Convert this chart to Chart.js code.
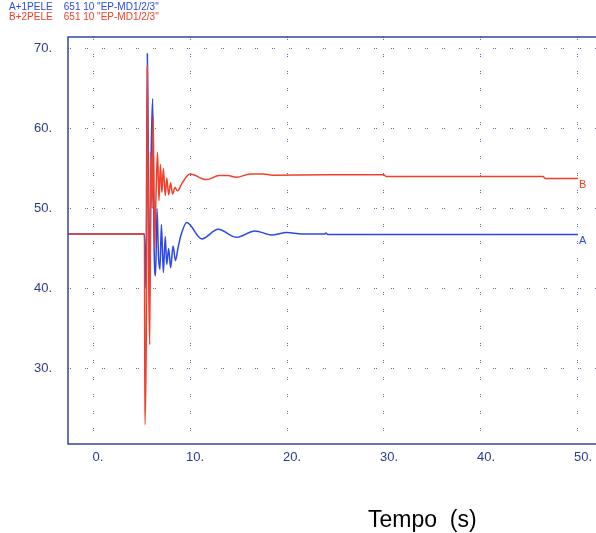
<!DOCTYPE html>
<html lang="pt">
<head>
<meta charset="UTF-8">
<title>Tempo (s)</title>
<script src="https://cdn.jsdelivr.net/npm/chart.js"></script>
<style>
  html, body { margin: 0; padding: 0; background: #fff; overflow: hidden; }
  #wrap { position: relative; width: 596px; height: 533px; overflow: hidden; }
  canvas { position: absolute; left: 0; top: 0; }
  .leg { position: absolute; left: 9px; font: 10px "Liberation Sans", Arial, sans-serif; white-space: pre; }
  #xt { position: absolute; left: 368px; top: 506px; font: 23px "Liberation Sans", Arial, sans-serif; color: #000; white-space: pre; }
</style>
</head>
<body>
<div id="wrap">
  <canvas id="c" width="620" height="533"></canvas>
  <div class="leg" style="top:1px;color:#2c48e8">A+1PELE    651 10 "EP-MD1/2/3"</div>
  <div class="leg" style="top:11px;color:#f0402a">B+2PELE    651 10 "EP-MD1/2/3"</div>
  <div id="xt">Tempo  (s)</div>
</div>
<script>
// tick values
var xTicks = [0, 10, 20, 30, 40, 50];
var yTicks = [30, 40, 50, 60, 70];

// B+2PELE (red)
var redT = [-2.6, 5.3, 5.35, 5.5, 5.6, 5.75, 5.85, 5.95, 6.1, 6.2, 6.35, 6.5, 6.65, 6.8, 6.95, 7.1, 7.25, 7.45,
            7.6, 7.8, 8.0, 8.2, 8.45, 8.7, 9.2, 10.0, 11.7, 13.0, 13.9, 14.8, 16.2, 17.5, 18.5, 24,
            30.0, 30.2, 46.4, 46.6, 50];
var redV = [46.8, 46.8, 23, 36, 67.8, 40, 33, 57, 50, 61.5, 45, 52, 57, 51, 55.5, 52, 55, 51.6,
            53.8, 51.7, 53.2, 51.8, 52.6, 52.2, 53.2, 54.3, 53.6, 54.1, 54.1, 53.9, 54.3, 54.3, 54.15, 54.2,
            54.2, 54.0, 54.0, 53.75, 53.75];

// A+1PELE (blue)
var blueT = [-2.6, 5.3, 5.45, 5.6, 5.75, 5.85, 6.0, 6.15, 6.3, 6.45, 6.6, 6.75, 6.9, 7.05, 7.25, 7.45, 7.6, 7.8,
             8.0, 8.25, 8.5, 8.75, 9.05, 9.66, 11.2, 12.9, 14.8, 16.7, 18.4, 20.0, 21.5,
             23.9, 24.0, 24.2, 50];
var blueV = [46.8, 46.8, 40, 69.3, 50, 39, 57, 63.7, 45, 41.6, 50, 44, 42.4, 48, 42, 46.5, 43, 45,
             42.6, 45.3, 43.5, 45, 46.6, 48.25, 46.2, 47.4, 46.4, 47.2, 46.7, 47.0, 46.8,
             46.8, 46.95, 46.75, 46.75];

var navy = '#2b3a8f';

function pts(t, v) {
  return t.map(function (x, i) { return { x: x, y: v[i] }; });
}

// plot frame + end labels
var frame = {
  id: 'frame',
  afterDatasetsDraw: function (chart) {
    var ctx = chart.ctx, a = chart.chartArea;
    ctx.save();
    ctx.strokeStyle = '#3646a0';
    ctx.lineWidth = 1.5;
    ctx.strokeRect(a.left, a.top, a.right - a.left, a.bottom - a.top);
    ctx.font = '11px "Liberation Sans", Arial, sans-serif';
    ctx.textAlign = 'left';
    ctx.textBaseline = 'top';
    chart.data.datasets.forEach(function (ds) {
      var last = ds.data[ds.data.length - 1];
      var px = chart.scales.x.getPixelForValue(last.x);
      var py = chart.scales.y.getPixelForValue(last.y);
      ctx.fillStyle = ds.borderColor;
      ctx.fillText(ds.endLabel, px + 1, py + 1);
    });
    ctx.restore();
  }
};

new Chart(document.getElementById('c'), {
  type: 'line',
  data: {
    datasets: [
      { label: 'B+2PELE', endLabel: 'B', data: pts(redT, redV), borderColor: '#f0402a', borderWidth: 1.5,
        pointRadius: 0, cubicInterpolationMode: 'monotone', fill: false },
      { label: 'A+1PELE', endLabel: 'A', data: pts(blueT, blueV), borderColor: '#2c48e8', borderWidth: 1.5,
        pointRadius: 0, cubicInterpolationMode: 'monotone', fill: false }
    ]
  },
  options: {
    responsive: false,
    animation: false,
    layout: { padding: { top: 37, right: 20, left: 0, bottom: 0 } },
    plugins: { legend: { display: false }, tooltip: { enabled: false } },
    scales: {
      x: {
        type: 'linear',
        min: -2.58,
        max: 52.27,
        afterBuildTicks: function (s) { s.ticks = xTicks.map(function (v) { return { value: v }; }); },
        afterFit: function (s) { s.height = 89; },
        grid: { color: 'rgba(43,58,143,0.75)', lineWidth: 1, drawTicks: false },
        border: { display: false, dash: [1, 1, 1, 14] },
        ticks: {
          color: navy, padding: 6, labelOffset: 5, maxRotation: 0,
          font: { family: '"Liberation Sans", Arial, sans-serif', size: 13 },
          callback: function (v) { return v + '.'; }
        }
      },
      y: {
        min: 20.6,
        max: 71.4,
        afterBuildTicks: function (s) { s.ticks = yTicks.map(function (v) { return { value: v }; }); },
        afterFit: function (s) { s.width = 68; },
        grid: { color: 'rgba(43,58,143,0.75)', lineWidth: 1, drawTicks: false },
        border: { display: false, dash: [1, 1, 1, 14] },
        ticks: {
          color: navy, padding: 16,
          font: { family: '"Liberation Sans", Arial, sans-serif', size: 13 },
          callback: function (v) { return v + '.'; }
        }
      }
    }
  },
  plugins: [frame]
});
</script>
</body>
</html>
